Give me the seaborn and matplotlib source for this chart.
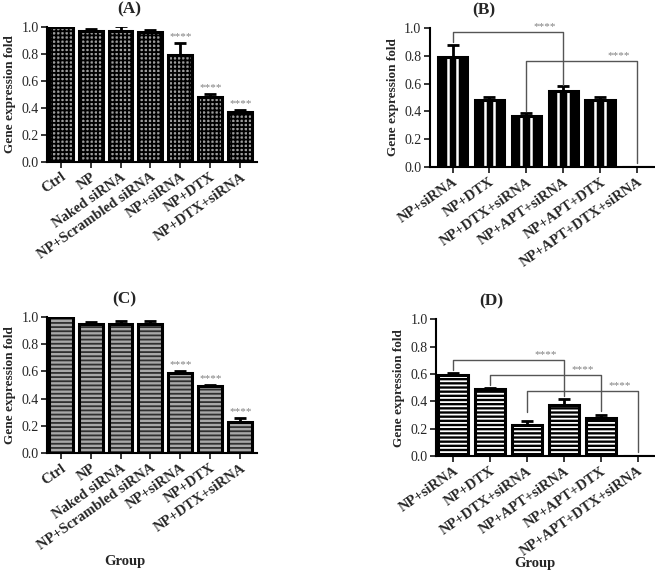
import numpy as np
import matplotlib
matplotlib.use("Agg")
import matplotlib.pyplot as plt
from matplotlib.patches import Rectangle
import seaborn as sns

# ---- data ----
groups_ac = ["Ctrl", "NP", "Naked siRNA", "NP+Scrambled siRNA",
             "NP+siRNA", "NP+DTX", "NP+DTX+siRNA"]
groups_bd = ["NP+siRNA", "NP+DTX", "NP+DTX+siRNA", "NP+APT+siRNA",
             "NP+APT+DTX", "NP+APT+DTX+siRNA"]

vals_a = [1.00, 0.97, 0.97, 0.96, 0.79, 0.48, 0.37]
err_a = [0.00, 0.010, 0.035, 0.015, 0.09, 0.02, 0.015]
star_a = [False, False, False, False, True, True, True]

vals_b = [0.79, 0.48, 0.37, 0.55, 0.48, 0.00]
err_b = [0.09, 0.02, 0.02, 0.03, 0.02, 0.00]
# (left bar, right bar, bracket level, left drop, right drop)
brackets_b = [(0, 3, 0.97, 0.90, 0.59), (2, 5, 0.765, 0.40, 0.03)]

vals_c = [1.00, 0.95, 0.95, 0.95, 0.59, 0.49, 0.23]
err_c = [0.00, 0.012, 0.02, 0.02, 0.012, 0.01, 0.025]
star_c = [False, False, False, False, True, True, True]

vals_d = [0.59, 0.49, 0.23, 0.37, 0.28, 0.00]
err_d = [0.015, 0.01, 0.025, 0.045, 0.02, 0.00]
brackets_d = [(0, 3, 0.70, 0.63, 0.44), (1, 4, 0.59, 0.52, 0.33),
              (2, 5, 0.475, 0.32, 0.03)]

sns.set_theme(style="ticks")
plt.rcParams["font.family"] = ["Liberation Serif", "DejaVu Serif"]
plt.rcParams["hatch.linewidth"] = 1.3

fig = plt.figure(figsize=(6.55, 5.70), dpi=100)
ax_a = fig.add_axes([0.072, 0.716, 0.320, 0.237])
ax_b = fig.add_axes([0.656, 0.707, 0.345, 0.244])
ax_c = fig.add_axes([0.072, 0.205, 0.320, 0.239])
ax_d = fig.add_axes([0.666, 0.200, 0.336, 0.240])


def draw_panel(ax, labels, vals, errs, face, hatch, hcolor, title, tx, xlim,
               stripes=False):
    sns.barplot(x=labels, y=vals, ax=ax, color=face, width=0.8,
                errorbar=None, saturation=1)
    for p in list(ax.patches):
        p.set_facecolor(face)
        p.set_edgecolor(hcolor)
        p.set_hatch(hatch)
        p.set_linewidth(0)
        x0, w, h = p.get_x(), p.get_width(), p.get_height()
        if stripes and h > 0.02:
            # two white vertical stripes inside each bar
            ax.vlines([x0 + w / 3, x0 + 2 * w / 3], 0, h, color="white",
                      lw=1.8, zorder=2.5)
        ax.add_patch(Rectangle((x0, p.get_y()), w, h, fill=False,
                               edgecolor="black", linewidth=2.2, zorder=3))
    xs = np.arange(len(vals))
    ax.errorbar(xs, vals, yerr=[np.zeros(len(errs)), errs], fmt="none",
                ecolor="black", elinewidth=2.0, capsize=4, capthick=2.0,
                zorder=2)
    ax.set_ylim(0, 1.0)
    ax.set_xlim(*xlim)
    ax.set_yticks([0, 0.2, 0.4, 0.6, 0.8, 1.0])
    ax.set_yticklabels(["0.0", "0.2", "0.4", "0.6", "0.8", "1.0"], fontsize=10)
    ax.set_xticks(xs)
    ax.set_xticklabels(labels, rotation=35, ha="right",
                       rotation_mode="anchor", fontsize=10.5, fontweight="bold")
    ax.set_ylabel("Gene expression fold", fontsize=9.5, fontweight="bold")
    ax.set_title(title, x=tx, fontsize=12.5, fontweight="bold", pad=10)
    ax.tick_params(axis="both", length=4, width=1.3, pad=2)
    for s in ["top", "right"]:
        ax.spines[s].set_visible(False)
    for s in ["left", "bottom"]:
        ax.spines[s].set_linewidth(1.5)
        ax.spines[s].set_color("black")


def add_stars(ax, vals, errs, flags):
    for i, (v, e, f) in enumerate(zip(vals, errs, flags)):
        if f:
            ax.text(i, v + e + 0.015, "****", ha="center", va="bottom",
                    fontsize=8, color="#808080")


def add_brackets(ax, brackets):
    for i, j, lvl, ld, rd in brackets:
        ax.plot([i, i, j, j], [ld, lvl, lvl, rd], color="#555555", lw=1.0,
                zorder=4, clip_on=False)
        ax.text(j - 0.5, lvl + 0.005, "****", ha="center", va="bottom",
                fontsize=8, color="#808080")


draw_panel(ax_a, groups_ac, vals_a, err_a, "#9c9c9c", "++++", "black",
           "(A)", 0.39, (-0.45, 6.55))
add_stars(ax_a, vals_a, err_a, star_a)

draw_panel(ax_b, groups_bd, vals_b, err_b, "black", "", "black",
           "(B)", 0.24, (-0.62, 5.5), stripes=True)
add_brackets(ax_b, brackets_b)

draw_panel(ax_c, groups_ac, vals_c, err_c, "#a8a8a8", "----", "#303030",
           "(C)", 0.37, (-0.45, 6.55))
add_stars(ax_c, vals_c, err_c, star_c)

draw_panel(ax_d, groups_bd, vals_d, err_d, "black", "----", "white",
           "(D)", 0.25, (-0.46, 5.5))
add_brackets(ax_d, brackets_d)

for ax, lx, ly in [(ax_c, 0.37, -0.75), (ax_d, 0.45, -0.74)]:
    ax.set_xlabel("Group", fontsize=10.5, fontweight="bold")
    ax.xaxis.set_label_coords(lx, ly)

fig.savefig("out.png", dpi=100)
